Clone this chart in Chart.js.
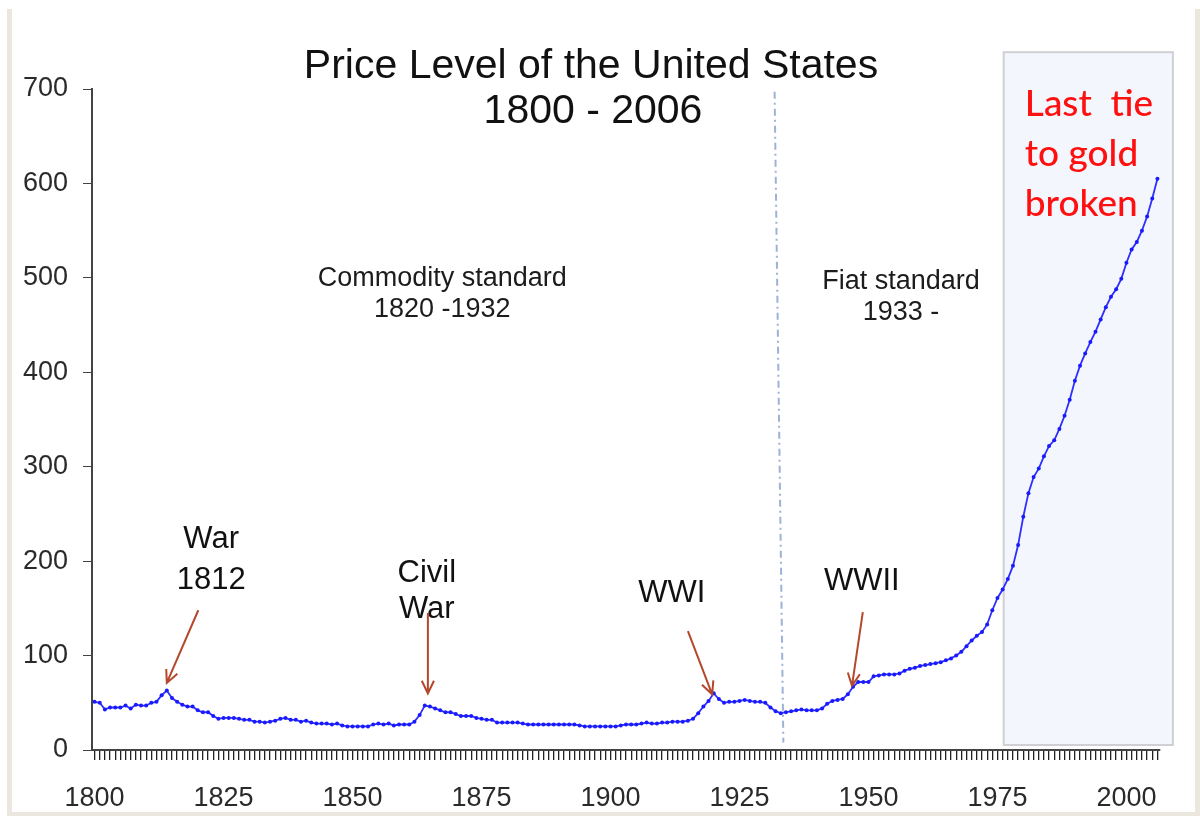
<!DOCTYPE html>
<html>
<head>
<meta charset="utf-8">
<script src="https://cdn.jsdelivr.net/npm/chart.js@4.4.1/dist/chart.umd.min.js"></script>
<style>
  html, body { margin: 0; padding: 0; background: #fff; }
</style>
</head>
<body>
<canvas id="priceChart" width="1200" height="816"></canvas>
<script>
// price index, 1967 = 100, one value per year from 1800 to 2006
const firstYear = 1800;
const priceIndex = [
    51, 50, 43, 45, 45, 45, 47, 44, 48, 47,      // 1800s
    47, 50, 51, 58, 63, 55, 51, 48, 46, 46,      // 1810s
    42, 40, 40, 36, 33, 34, 34, 34, 33, 32,      // 1820s
    32, 30, 30, 29, 30, 31, 33, 34, 32, 32,      // 1830s
    30, 31, 29, 28, 28, 28, 27, 28, 26, 25,      // 1840s
    25, 25, 25, 25, 27, 28, 27, 28, 26, 27,      // 1850s
    27, 27, 30, 37, 47, 46, 44, 42, 40, 40,      // 1860s
    38, 36, 36, 36, 34, 33, 32, 32, 29, 29,      // 1870s
    29, 29, 29, 28, 27, 27, 27, 27, 27, 27,      // 1880s
    27, 27, 27, 27, 26, 25, 25, 25, 25, 25,      // 1890s
    25, 25, 26, 27, 27, 27, 28, 29, 28, 28,      // 1900s
    29, 29, 30, 30, 30, 31, 33, 39, 46, 52,      // 1910s
    60, 54, 50, 51, 51, 52, 53, 52, 51, 51,      // 1920s
    50, 45, 41, 39, 40, 41, 42, 43, 42, 42,      // 1930s
    42, 44, 49, 52, 53, 54, 59, 67, 72, 72,      // 1940s
    72, 78, 79, 80, 80, 80, 81, 84, 86, 87,      // 1950s
    89, 90, 91, 92, 93, 95, 97, 100, 104, 110,   // 1960s
    116, 121, 125, 133, 148, 161, 170, 181, 195, 217,  // 1970s
    247, 272, 289, 298, 311, 322, 328, 340, 354, 371,  // 1980s
    391, 407, 420, 432, 443, 456, 469, 480, 488, 499,  // 1990s
    516, 530, 538, 550, 565, 584, 605                  // 2000-2006
];
const years = priceIndex.map((_, i) => String(firstYear + i));
const labelledYears = [1800, 1825, 1850, 1875, 1900, 1925, 1950, 1975, 2000];
const yMin = 0;
const yMax = 700;
const yStep = 100;

const titleLines = ['Price Level of the United States', '1800 - 2006'];

// text notes placed in data units: [text, year, value]
const eraNotes = [
    ['Commodity standard', 1867.4, 499],
    ['1820 -1932', 1867.4, 466],
    ['Fiat standard', 1956.3, 496],
    ['1933 -', 1956.3, 463]
];
const warNotes = [
    ['War', 1822.6, 223],
    ['1812', 1822.6, 180],
    ['Civil', 1864.4, 187],
    ['War', 1864.4, 149],
    ['WWI', 1911.9, 166],
    ['WWII', 1948.7, 179]
];
// arrows: [fromYear, fromValue, toYear, toValue]
const warArrows = [
    [1820.1, 148, 1814.0, 71],
    [1864.6, 145, 1864.6, 60],
    [1915.0, 126, 1919.7, 59],
    [1948.9, 146, 1946.8, 68]
];
const goldNote = ['Last  tie', 'to gold', 'broken'];

const sansFont = '"Liberation Sans", Arial, sans-serif';

function xAt(chart, year) {
    return chart.scales.x.getPixelForValue(year - firstYear);
}
function yAt(chart, value) {
    return chart.scales.y.getPixelForValue(value);
}

function drawArrow(ctx, x1, y1, x2, y2) {
    const ang = Math.atan2(y2 - y1, x2 - x1);
    const head = 14;
    ctx.beginPath();
    ctx.moveTo(x1, y1);
    ctx.lineTo(x2, y2);
    ctx.moveTo(x2 - head * Math.cos(ang - 0.45), y2 - head * Math.sin(ang - 0.45));
    ctx.lineTo(x2, y2);
    ctx.lineTo(x2 - head * Math.cos(ang + 0.45), y2 - head * Math.sin(ang + 0.45));
    ctx.stroke();
}

const decorPlugin = {
    id: 'decor',
    beforeDraw(chart) {
        const ctx = chart.ctx;
        ctx.save();
        ctx.fillStyle = '#ffffff';
        ctx.fillRect(0, 0, chart.width, chart.height);
        // slide frame
        ctx.fillStyle = '#ebe7df';
        ctx.fillRect(7, 9, 5, chart.height - 9);
        ctx.fillRect(chart.width - 5, 9, 5, chart.height - 9);
        ctx.fillRect(7, chart.height - 4, chart.width - 7, 4);
        ctx.restore();
    },
    beforeDatasetsDraw(chart) {
        const ctx = chart.ctx;
        ctx.save();
        // shaded box for the post-1971 period
        const bx1 = xAt(chart, 1976.2), bx2 = xAt(chart, 2009.0);
        const by1 = yAt(chart, 739), by2 = yAt(chart, 5.3);
        ctx.fillStyle = '#f3f6fc';
        ctx.fillRect(bx1, by1, bx2 - bx1, by2 - by1);
        ctx.strokeStyle = '#cfd0d4';
        ctx.lineWidth = 2;
        ctx.strokeRect(bx1, by1, bx2 - bx1, by2 - by1);

        // dash-dot divider between commodity and fiat standard
        ctx.strokeStyle = '#9db2d6';
        ctx.lineWidth = 2;
        ctx.setLineDash([7, 4, 2, 4]);
        ctx.beginPath();
        ctx.moveTo(xAt(chart, 1931.8), yAt(chart, 697));
        ctx.lineTo(xAt(chart, 1933.5), yAt(chart, 8));
        ctx.stroke();
        ctx.restore();
    },
    afterDatasetsDraw(chart) {
        const ctx = chart.ctx;
        ctx.save();
        ctx.textAlign = 'center';
        ctx.textBaseline = 'middle';

        ctx.fillStyle = '#111';
        ctx.font = '41px ' + sansFont;
        ctx.fillText(titleLines[0], 591, 67);
        ctx.fillText(titleLines[1], 593, 112);

        ctx.fillStyle = '#1c1c1c';
        ctx.font = '27px ' + sansFont;
        eraNotes.forEach(([t, yr, v]) => ctx.fillText(t, xAt(chart, yr), yAt(chart, v)));

        ctx.fillStyle = '#111';
        ctx.font = '31px ' + sansFont;
        warNotes.forEach(([t, yr, v]) => ctx.fillText(t, xAt(chart, yr), yAt(chart, v)));

        ctx.strokeStyle = '#b4482c';
        ctx.lineWidth = 2;
        warArrows.forEach(([y1, v1, y2, v2]) =>
            drawArrow(ctx, xAt(chart, y1), yAt(chart, v1), xAt(chart, y2), yAt(chart, v2)));

        ctx.fillStyle = '#ff1010';
        ctx.textAlign = 'left';
        ctx.font = '500 37px Lato, "Open Sans", sans-serif';
        goldNote.forEach((t, i) => ctx.fillText(t, xAt(chart, 1980.3), yAt(chart, 684 - i * 53)));
        ctx.restore();
    }
};

new Chart(document.getElementById('priceChart'), {
    type: 'line',
    data: {
        labels: years,
        datasets: [{
            data: priceIndex,
            borderColor: '#2f2fff',
            borderWidth: 1.8,
            pointRadius: 2,
            pointBackgroundColor: '#1a1aff',
            pointBorderWidth: 0,
            tension: 0
        }]
    },
    options: {
        responsive: false,
        devicePixelRatio: 1,
        animation: false,
        layout: { padding: { top: 89, right: 40, left: 0, bottom: 0 } },
        plugins: {
            legend: { display: false },
            tooltip: { enabled: false },
            title: { display: false }
        },
        scales: {
            x: {
                type: 'category',
                offset: true,
                grid: { drawOnChartArea: false, drawTicks: true, tickLength: 10, color: '#222', lineWidth: 1.3 },
                border: { color: '#444', width: 2 },
                ticks: {
                    autoSkip: false,
                    maxRotation: 0,
                    minRotation: 0,
                    padding: 22,
                    color: '#2a2a2a',
                    font: { family: sansFont, size: 27 },
                    callback: (val, i) => labelledYears.includes(firstYear + i) ? String(firstYear + i) : ''
                },
                afterFit: s => { s.height = 66; }
            },
            y: {
                min: yMin,
                max: yMax,
                grid: { drawOnChartArea: false, tickLength: 9, color: '#444' },
                border: { color: '#444', width: 2 },
                ticks: {
                    stepSize: yStep,
                    padding: 15,
                    color: '#2a2a2a',
                    font: { family: sansFont, size: 27 }
                },
                afterFit: s => { s.width = 92; }
            }
        }
    },
    plugins: [decorPlugin]
});
</script>
</body>
</html>
